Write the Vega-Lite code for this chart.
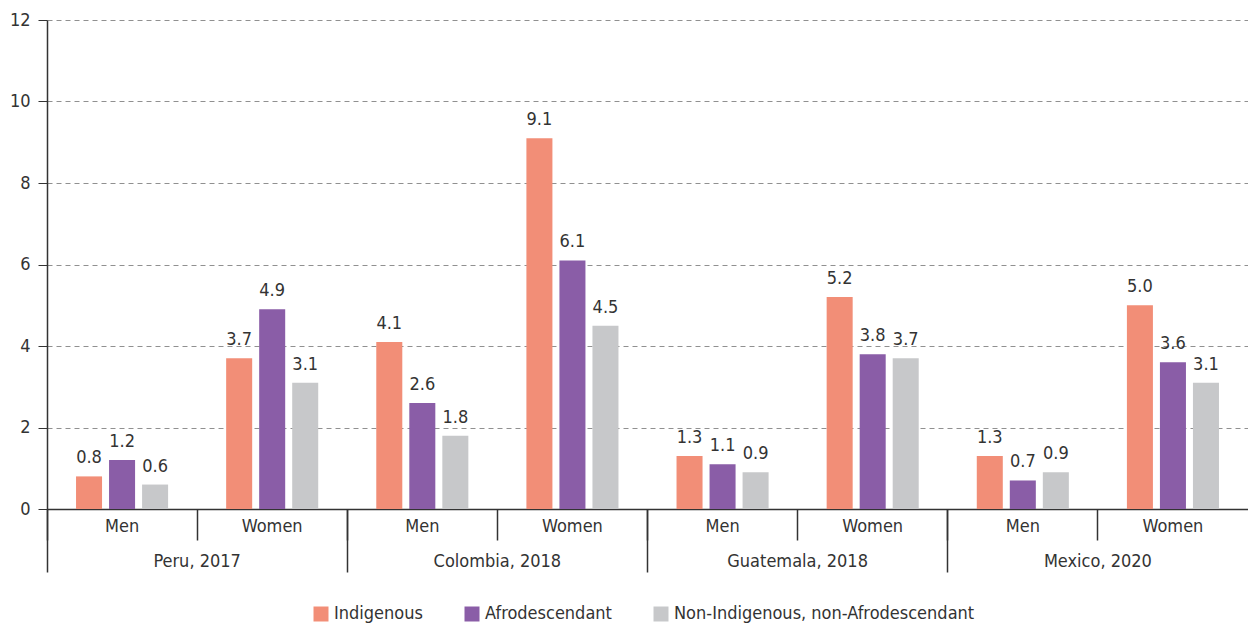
{
  "$schema": "https://vega.github.io/schema/vega-lite/v6.json",
  "autosize": {"type": "none"},
  "padding": {"left": 47, "top": 20, "right": 0, "bottom": 114},
  "width": 1201,
  "height": 489,
  "config": {
    "font": "Liberation Sans Narrow, DejaVu Sans Condensed, sans-serif",
    "view": {"stroke": null},
    "axis": {"labelFont": "Liberation Sans Narrow, DejaVu Sans Condensed, sans-serif", "labelFontSize": 18, "labelColor": "#333333"},
    "legend": {"labelFont": "Liberation Sans Narrow, DejaVu Sans Condensed, sans-serif"}
  },
  "data": {
    "values": [
      {"country": "Peru, 2017", "sex": "Men", "cell": "Peru, 2017|Men", "group": "Indigenous", "value": 0.8},
      {"country": "Peru, 2017", "sex": "Men", "cell": "Peru, 2017|Men", "group": "Afrodescendant", "value": 1.2},
      {"country": "Peru, 2017", "sex": "Men", "cell": "Peru, 2017|Men", "group": "Non-Indigenous, non-Afrodescendant", "value": 0.6},
      {"country": "Peru, 2017", "sex": "Women", "cell": "Peru, 2017|Women", "group": "Indigenous", "value": 3.7},
      {"country": "Peru, 2017", "sex": "Women", "cell": "Peru, 2017|Women", "group": "Afrodescendant", "value": 4.9},
      {"country": "Peru, 2017", "sex": "Women", "cell": "Peru, 2017|Women", "group": "Non-Indigenous, non-Afrodescendant", "value": 3.1},
      {"country": "Colombia, 2018", "sex": "Men", "cell": "Colombia, 2018|Men", "group": "Indigenous", "value": 4.1},
      {"country": "Colombia, 2018", "sex": "Men", "cell": "Colombia, 2018|Men", "group": "Afrodescendant", "value": 2.6},
      {"country": "Colombia, 2018", "sex": "Men", "cell": "Colombia, 2018|Men", "group": "Non-Indigenous, non-Afrodescendant", "value": 1.8},
      {"country": "Colombia, 2018", "sex": "Women", "cell": "Colombia, 2018|Women", "group": "Indigenous", "value": 9.1},
      {"country": "Colombia, 2018", "sex": "Women", "cell": "Colombia, 2018|Women", "group": "Afrodescendant", "value": 6.1},
      {"country": "Colombia, 2018", "sex": "Women", "cell": "Colombia, 2018|Women", "group": "Non-Indigenous, non-Afrodescendant", "value": 4.5},
      {"country": "Guatemala, 2018", "sex": "Men", "cell": "Guatemala, 2018|Men", "group": "Indigenous", "value": 1.3},
      {"country": "Guatemala, 2018", "sex": "Men", "cell": "Guatemala, 2018|Men", "group": "Afrodescendant", "value": 1.1},
      {"country": "Guatemala, 2018", "sex": "Men", "cell": "Guatemala, 2018|Men", "group": "Non-Indigenous, non-Afrodescendant", "value": 0.9},
      {"country": "Guatemala, 2018", "sex": "Women", "cell": "Guatemala, 2018|Women", "group": "Indigenous", "value": 5.2},
      {"country": "Guatemala, 2018", "sex": "Women", "cell": "Guatemala, 2018|Women", "group": "Afrodescendant", "value": 3.8},
      {"country": "Guatemala, 2018", "sex": "Women", "cell": "Guatemala, 2018|Women", "group": "Non-Indigenous, non-Afrodescendant", "value": 3.7},
      {"country": "Mexico, 2020", "sex": "Men", "cell": "Mexico, 2020|Men", "group": "Indigenous", "value": 1.3},
      {"country": "Mexico, 2020", "sex": "Men", "cell": "Mexico, 2020|Men", "group": "Afrodescendant", "value": 0.7},
      {"country": "Mexico, 2020", "sex": "Men", "cell": "Mexico, 2020|Men", "group": "Non-Indigenous, non-Afrodescendant", "value": 0.9},
      {"country": "Mexico, 2020", "sex": "Women", "cell": "Mexico, 2020|Women", "group": "Indigenous", "value": 5.0},
      {"country": "Mexico, 2020", "sex": "Women", "cell": "Mexico, 2020|Women", "group": "Afrodescendant", "value": 3.6},
      {"country": "Mexico, 2020", "sex": "Women", "cell": "Mexico, 2020|Women", "group": "Non-Indigenous, non-Afrodescendant", "value": 3.1}
    ]
  },
  "layer": [
    {
      "encoding": {
        "x": {
          "field": "cell", "type": "nominal", "sort": null,
          "scale": {"paddingInner": 0, "paddingOuter": 0},
          "axis": {
            "orient": "bottom", "title": null, "labelAngle": 0,
            "labelExpr": "split(datum.label, '|')[1]",
            "labelFontSize": 18, "labelColor": "#333333",
            "bandPosition": 0, "tickSize": 31, "tickColor": "#333333", "tickWidth": 1.5,
            "domainColor": "#333333", "domainWidth": 1.5,
            "labelPadding": -23, "labelBaseline": "top"
          }
        },
        "xOffset": {
          "field": "group", "type": "nominal",
          "sort": ["Indigenous", "Afrodescendant", "Non-Indigenous, non-Afrodescendant"],
          "scale": {"paddingInner": 0.212, "paddingOuter": 0.879}
        },
        "y": {
          "field": "value", "type": "quantitative",
          "scale": {"domain": [0, 12]},
          "axis": {
            "title": null, "values": [0, 2, 4, 6, 8, 10, 12],
            "labelFontSize": 18, "labelColor": "#333333",
            "grid": true, "gridDash": [5, 4], "gridColor": "#909090", "gridWidth": 1,
            "domainColor": "#333333", "domainWidth": 1.5,
            "tickColor": "#333333", "tickSize": 9, "labelPadding": 8
          }
        }
      },
      "layer": [
        {
          "mark": {"type": "bar"},
          "encoding": {
            "color": {
              "field": "group", "type": "nominal",
              "sort": ["Indigenous", "Afrodescendant", "Non-Indigenous, non-Afrodescendant"],
              "scale": {"range": ["#F28E77", "#8A5DA7", "#C7C8CA"]},
              "legend": {
                "title": null, "orient": "none", "direction": "horizontal",
                "legendX": 265, "legendY": 585,
                "symbolType": "square", "symbolSize": 225, "symbolStrokeWidth": 0,
                "labelFontSize": 18, "labelColor": "#333333", "labelLimit": 500,
                "columnPadding": 40, "labelOffset": 4
              }
            }
          }
        },
        {
          "mark": {"type": "text", "baseline": "bottom", "dy": -9, "fontSize": 18, "color": "#333333"},
          "encoding": {
            "text": {"field": "value", "type": "quantitative", "format": ".1f"}
          }
        }
      ]
    },
    {
      "mark": {"type": "bar", "opacity": 0},
      "encoding": {
        "x": {
          "field": "country", "type": "nominal", "sort": null,
          "scale": {"paddingInner": 0, "paddingOuter": 0},
          "axis": {
            "orient": "bottom", "title": null, "labelAngle": 0,
            "labelFontSize": 18, "labelColor": "#333333",
            "bandPosition": 0, "tickSize": 63, "tickColor": "#333333", "tickWidth": 1.5,
            "domain": false, "labelPadding": -20, "labelBaseline": "top"
          }
        }
      }
    }
  ],
  "resolve": {"scale": {"x": "independent"}, "axis": {"x": "independent"}}
}
